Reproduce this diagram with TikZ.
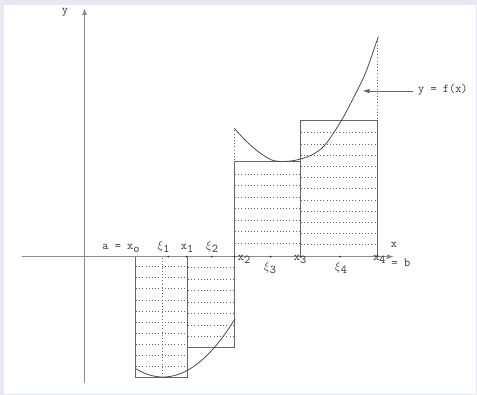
\documentclass[tikz,border=0pt]{standalone}
\usetikzlibrary{arrows.meta}
\definecolor{bord}{HTML}{E8E8F2}
\newcommand{\sbx}[1]{\raisebox{-0.55ex}{#1}}
\begin{document}
\begin{tikzpicture}[x=1pt,y=-1pt,
  lbl/.style={font=\ttfamily\fontsize{12}{14}\selectfont, text=black!80, inner sep=0pt, anchor=base},
  axisline/.style={draw=black!45, line width=1pt},
  edge/.style={draw=black!60, line width=0.8pt},
  hatch/.style={draw=black!60, line width=0.8pt, dash pattern=on 0.8pt off 2.4pt},
  crv/.style={draw=black!70, line width=0.8pt},
  tick/.style={fill=black!80, circle, inner sep=0pt, minimum size=2pt}]
\useasboundingbox (0,0) rectangle (477,395);
\fill[bord] (0,0) rectangle (477,395);
\fill[white] (4,5) rectangle (476,394);

% dotted shading of the rectangles
\foreach \yy in {266,277,288.5,300,311,322,333,344,355,366}
  \draw[hatch] (136,\yy) -- (187,\yy);
\foreach \yy in {267,279,290.5,302,313.5,325,336.5}
  \draw[hatch] (188,\yy) -- (234,\yy);
\foreach \yy in {174,185.5,197,208.5,220,231.5,243}
  \draw[hatch] (235,\yy) -- (300,\yy);
\foreach \yy in {132.5,144,155,166.5,177,188.5,200,211,222,233,244}
  \draw[hatch] (301,\yy) -- (377,\yy);
\draw[hatch] (162,258) -- (162,376);
\draw[hatch] (377.7,119) -- (377.7,40);
\draw[hatch] (234.3,160) -- (234.3,130);
\draw[hatch] (188,347.7) -- (234,347.7);

% rectangles
\draw[edge] (135.7,256.7) rectangle (187.3,377);
\draw[edge] (187.3,256.7) rectangle (234.3,347.7);
\draw[edge] (234.3,256.7) rectangle (300.3,161.3);
\draw[edge] (300.3,256.7) rectangle (377.7,120.7);

% curve
\draw[crv] plot[domain=135.7:235,samples=60] (\x,{377-0.0112*(\x-163)*(\x-163)});
\draw[crv] plot[smooth] coordinates {(234.3,128.3) (245,140) (258.3,151.7) (271.7,160) (283.3,161.5) (296.7,160) (311.7,155) (325,145) (341.7,120) (358.3,88.3) (366.7,70) (378.3,36.7)};

% axes
\coordinate (xl) at (22,256.7);
\coordinate (xr) at (394,256.7);
\coordinate (yb) at (84.5,383);
\coordinate (yt) at (84.5,8);
\draw[axisline,-{Latex[length=7pt,width=5pt]}] (xl) -- (xr);
\draw[axisline,-{Latex[length=7pt,width=5pt]}] (yb) -- (yt);

% points on the axis
\foreach \xx/\nm in {168.3/p1,186.7/p2,211.7/p3,234.3/p4,270.7/p5,300.7/p6,340/p7,377.7/p8}
  \node[tick] (\nm) at (\xx,256.7) {};

% labels
\node[lbl] (ly) at (65,14) {y};
\node[lbl] (lx) at (394,248) {x};
\node[lbl] (la) at (121,249.5) {a = x\sbx{o}};
\node[lbl] (lxi1) at (163.5,249.5) {$\xi$\sbx{1}};
\node[lbl] (lx1) at (187,249.5) {x\sbx{1}};
\node[lbl] (lxi2) at (212,249.5) {$\xi$\sbx{2}};
\node[lbl] (lx2) at (244,261) {x\sbx{2}};
\node[lbl] (lxi3) at (270,271) {$\xi$\sbx{3}};
\node[lbl] (lx3) at (300,261) {x\sbx{3}};
\node[lbl] (lxi4) at (341,271) {$\xi$\sbx{4}};
\node[lbl,anchor=base west] (lx4) at (373,261) {x\sbx{4} \raisebox{-6pt}{= b}};

% y = f(x)
\node[lbl,anchor=west] (fx) at (418,90) {y = f(x)};
\coordinate (fxtail) at (413,91);
\coordinate (fxtip) at (362.5,91);
\draw[edge,-{Latex[length=7pt,width=4.5pt]}] (fxtail) -- (fxtip);
\end{tikzpicture}
\end{document}
